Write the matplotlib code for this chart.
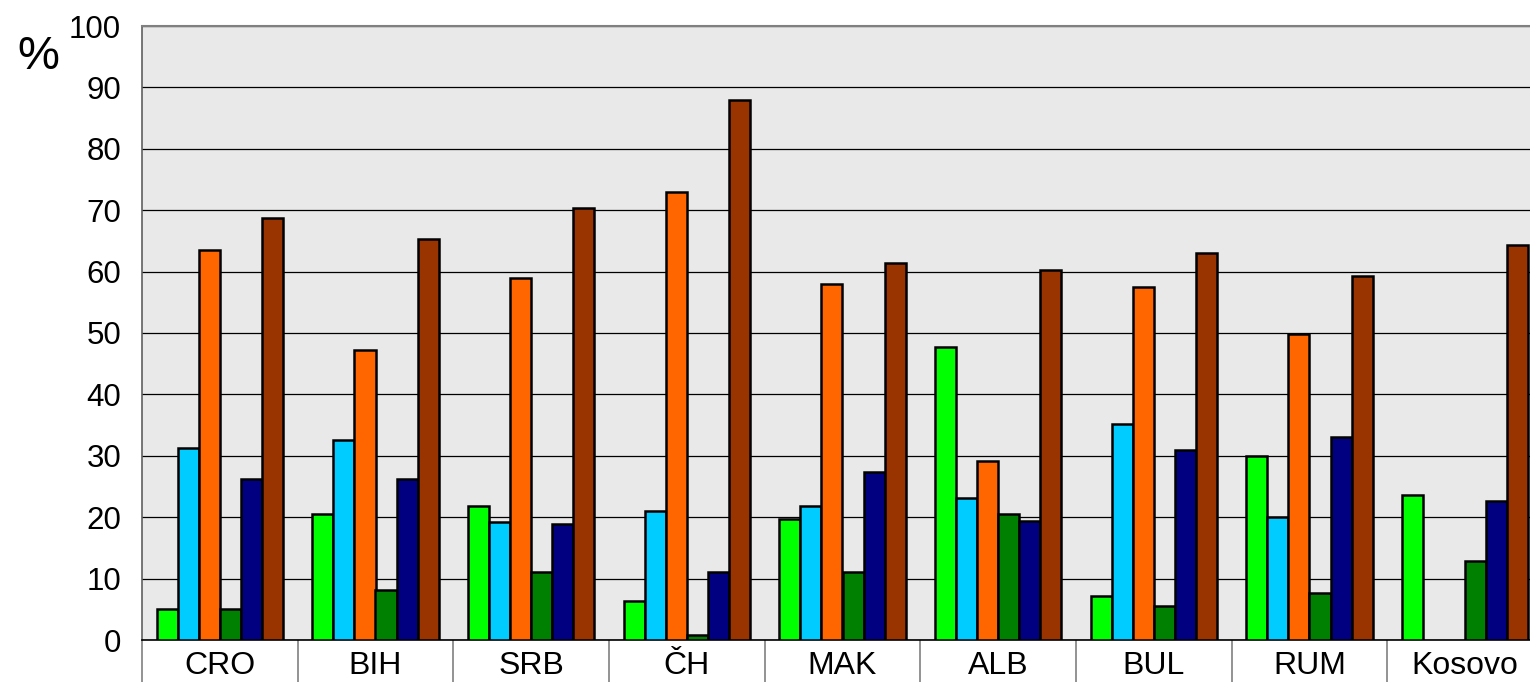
import numpy as np
import matplotlib
matplotlib.use("Agg")
import matplotlib.pyplot as plt

plt.rcParams['font.family'] = ['Liberation Sans', 'DejaVu Sans']

# categories and series values (%)
countries = ["CRO", "BIH", "SRB", "ČH", "MAK", "ALB", "BUL", "RUM", "Kosovo"]
s_green = [5.0, 20.6, 21.9, 6.3, 19.7, 47.7, 7.2, 30.0, 23.6]
s_cyan = [31.3, 32.6, 19.2, 21.0, 21.9, 23.1, 35.2, 20.1, np.nan]
s_orange = [63.5, 47.3, 58.9, 73.0, 58.0, 29.2, 57.5, 49.8, np.nan]
s_dkgreen = [5.0, 8.1, 11.1, 0.8, 11.1, 20.6, 5.5, 7.7, 12.9]
s_navy = [26.2, 26.2, 18.9, 11.1, 27.4, 19.3, 30.9, 33.0, 22.7]
s_brown = [68.8, 65.3, 70.4, 88.0, 61.4, 60.2, 63.1, 59.3, 64.4]

series = [s_green, s_cyan, s_orange, s_dkgreen, s_navy, s_brown]
colors = ["#00FF00", "#00CCFF", "#FF6600", "#008000", "#000080", "#993300"]

fig = plt.figure(figsize=(15.3, 6.82), dpi=100)
ax = fig.add_axes([142 / 1530, 42 / 682, 1401 / 1530, 614 / 682])
ax.set_facecolor("#e9e9e9")

x = np.arange(len(countries))
w = 0.135
for i, (vals, c) in enumerate(zip(series, colors)):
    ax.bar(x + (i - 2.5) * w, vals, width=w, color=c, edgecolor="black",
           linewidth=1.8, zorder=3)

ax.set_ylim(0, 100)
ax.set_xlim(-0.5, len(countries) - 0.5)
ax.set_yticks(range(0, 101, 10))
ax.yaxis.grid(True, color="black", linewidth=0.9, zorder=1)
ax.set_axisbelow(True)
ax.tick_params(axis="y", length=0, pad=15, labelsize=22.5)

ax.set_xticks(x)
ax.set_xticklabels(countries)
ax.set_xticks(np.arange(-0.5, len(countries), 1), minor=True)
ax.tick_params(axis="x", which="major", length=0, pad=8, labelsize=23)
ax.tick_params(axis="x", which="minor", length=31, width=1.2, color="#808080")

ax.spines["top"].set_color("#808080")
ax.spines["top"].set_linewidth(1.5)
ax.spines["left"].set_color("#606060")
ax.spines["left"].set_linewidth(1.2)
ax.spines["bottom"].set_color("black")
ax.spines["bottom"].set_linewidth(1.2)
ax.spines["right"].set_visible(False)

fig.text(38 / 1530, 1 - 57 / 682, "%", fontsize=34, ha="center", va="center")

fig.savefig("out.png", dpi=100)
